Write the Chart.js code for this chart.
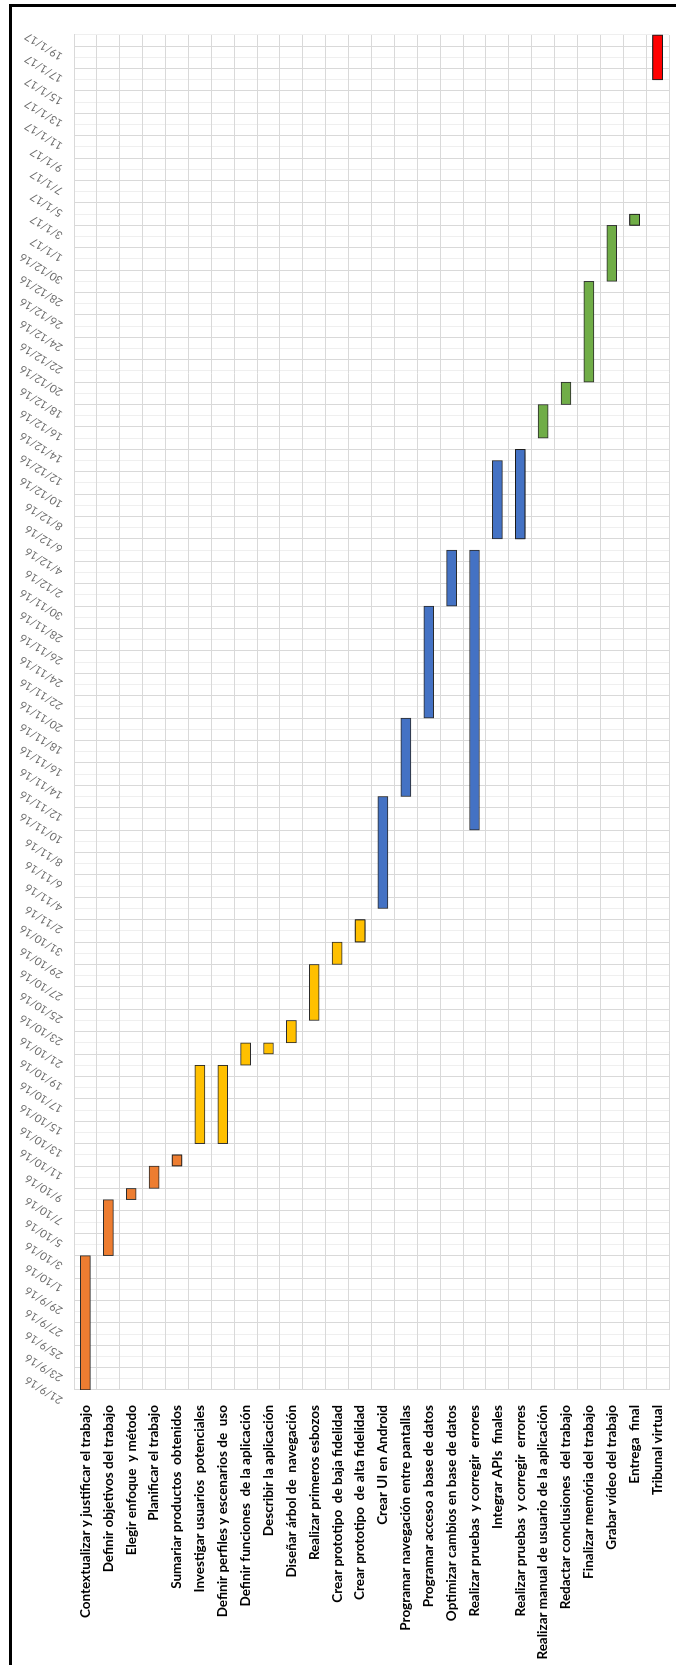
<!DOCTYPE html>
<html lang="es">
<head>
<meta charset="utf-8">
<title>Planificación del trabajo</title>
<script src="https://cdn.jsdelivr.net/npm/chart.js@4/dist/chart.umd.min.js"></script>
<style>
  html, body { margin: 0; padding: 0; background: #fff; }
  body { width: 676px; height: 1665px; position: relative; overflow: hidden; }
  /* The Gantt is laid out landscape and turned a quarter turn to stand upright */
  #gantt {
    position: absolute; left: 0; top: 0;
    width: 1665px; height: 676px;
    transform-origin: 0 0;
    transform: translate(0, 1665px) rotate(-90deg);
  }
  #frame {
    position: absolute; left: 9px; top: 4px; right: -10px; bottom: -10px;
    border-left: 3px solid #000; border-top: 3px solid #000;
    pointer-events: none;
  }
</style>
</head>
<body>
<div id="gantt"><canvas id="chart" width="1665" height="676"></canvas></div>
<div id="frame"></div>
<script>
// Tasks, top to bottom
const tasks = [
  'Contextualizar y justificar el trabajo',
  'Definir objetivos del trabajo',
  'Elegir enfoque  y método',
  'Planificar el trabajo',
  'Sumariar productos  obtenidos',
  'Investigar usuarios  potenciales',
  'Definir perfiles y escenarios de  uso',
  'Definir funciones  de la aplicación',
  'Describir la aplicación',
  'Diseñar árbol de  navegación',
  'Realizar primeros esbozos',
  'Crear prototipo  de baja fidelidad',
  'Crear prototipo  de alta fidelidad',
  'Crear UI en Android',
  'Programar navegación entre pantallas',
  'Programar acceso a base de datos',
  'Optimizar cambios en base de datos',
  'Realizar pruebas  y corregir  errores',
  'Integrar APIs  finales',
  'Realizar pruebas  y corregir  errores',
  'Realizar manual de usuario de la aplicación',
  'Redactar conclusiones  del trabajo',
  'Finalizar memória del trabajo',
  'Grabar vídeo del trabajo',
  'Entrega  final',
  'Tribunal virtual'
];

const startDates = [
  '21/9/16', '3/10/16', '8/10/16', '9/10/16', '11/10/16',
  '13/10/16', '13/10/16', '20/10/16', '21/10/16', '22/10/16', '24/10/16', '29/10/16', '31/10/16',
  '3/11/16', '13/11/16', '20/11/16', '30/11/16', '10/11/16', '6/12/16', '6/12/16',
  '15/12/16', '18/12/16', '20/12/16', '29/12/16', '3/1/17',
  '16/1/17'
];

const endDates = [
  '3/10/16', '8/10/16', '9/10/16', '11/10/16', '12/10/16',
  '20/10/16', '20/10/16', '22/10/16', '22/10/16', '24/10/16', '29/10/16', '31/10/16', '2/11/16',
  '13/11/16', '20/11/16', '30/11/16', '5/12/16', '5/12/16', '13/12/16', '14/12/16',
  '18/12/16', '20/12/16', '29/12/16', '3/1/17', '4/1/17',
  '20/1/17'
];

// Project phase of each task
const phases = [
  'inicio', 'inicio', 'inicio', 'inicio', 'inicio',
  'diseño', 'diseño', 'diseño', 'diseño', 'diseño', 'diseño', 'diseño', 'diseño',
  'desarrollo', 'desarrollo', 'desarrollo', 'desarrollo', 'desarrollo', 'desarrollo', 'desarrollo',
  'cierre', 'cierre', 'cierre', 'cierre', 'cierre',
  'defensa'
];

// Milestone-like tasks drawn with a dark halo
const highlighted = [4, 12, 19, 24, 25];

// Date axis range and label step (days)
const axisStart = '21/9/16';
const axisEnd = '20/1/17';
const labelStepDays = 2;

const phaseColors = {
  'inicio': '#ED7D31',
  'diseño': '#FFC000',
  'desarrollo': '#4472C4',
  'cierre': '#70AD47',
  'defensa': '#FF0000'
};

const DAY = 86400000;
function toDay(str) {
  const [d, m, y] = str.split('/').map(Number);
  return Date.UTC(2000 + y, m - 1, d) / DAY;
}
function fromDay(n) {
  const dt = new Date(n * DAY);
  return dt.getUTCDate() + '/' + (dt.getUTCMonth() + 1) + '/' + String(dt.getUTCFullYear()).slice(2);
}

const xMin = toDay(axisStart);
const xMax = toDay(axisEnd);
const spans = startDates.map((s, i) => [toDay(s), toDay(endDates[i])]);

const haloPlugin = {
  id: 'halo',
  afterDatasetsDraw(chart) {
    const meta = chart.getDatasetMeta(0);
    const ctx = chart.ctx;
    highlighted.forEach(i => {
      ctx.save();
      ctx.shadowColor = 'rgba(0,0,0,0.9)';
      ctx.shadowBlur = 8;
      meta.data[i].draw(ctx);
      ctx.restore();
    });
  }
};

Chart.defaults.font.family = 'Lato, "Open Sans", sans-serif';

new Chart(document.getElementById('chart'), {
  type: 'bar',
  data: {
    labels: tasks,
    datasets: [{
      data: spans,
      backgroundColor: phases.map(p => phaseColors[p]),
      borderColor: '#2b2b2b',
      borderWidth: 1,
      borderSkipped: false,
      barThickness: 10
    }]
  },
  options: {
    indexAxis: 'y',
    responsive: false,
    animation: false,
    devicePixelRatio: 1,
    layout: { padding: { left: 0, top: 0, right: 35, bottom: 7 } },
    plugins: {
      legend: { display: false },
      tooltip: { enabled: false }
    },
    scales: {
      x: {
        type: 'linear',
        position: 'top',
        min: xMin,
        max: xMax,
        afterBuildTicks(scale) {
          const ticks = [];
          for (let v = xMin; v <= xMax; v++) ticks.push({ value: v });
          scale.ticks = ticks;
        },
        afterFit(scale) {
          scale.height = 74;
          scale.paddingLeft = 0;
          scale.paddingRight = 0;
        },
        grid: {
          drawTicks: false,
          color: ctx => (ctx.tick && (ctx.tick.value - xMin) % labelStepDays === 0) ? '#d9d9d9' : '#efefef',
          lineWidth: 1
        },
        border: { display: true, color: '#d9d9d9' },
        ticks: {
          autoSkip: false,
          minRotation: 58,
          maxRotation: 58,
          padding: 9,
          color: '#6b6b6b',
          font: { size: 11 },
          callback: v => ((v - xMin) % labelStepDays === 0) ? fromDay(v) : ''
        }
      },
      y: {
        afterFit(scale) {
          scale.width = 275;
          scale.paddingTop = 0;
          scale.paddingBottom = 0;
        },
        grid: { drawTicks: false, color: '#d9d9d9', lineWidth: 1 },
        border: { display: true, color: '#d9d9d9' },
        ticks: {
          autoSkip: false,
          padding: 15,
          color: '#000',
          font: { size: 13.5, weight: 'bold' }
        }
      }
    }
  },
  plugins: [haloPlugin]
});
</script>
</body>
</html>
